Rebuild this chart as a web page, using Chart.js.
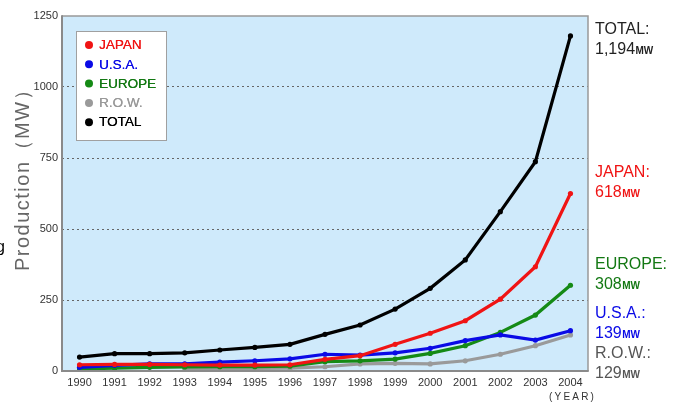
<!DOCTYPE html>
<html>
<head>
<meta charset="utf-8">
<script src="https://cdn.jsdelivr.net/npm/chart.js@4"></script>
<style>
  html, body { margin: 0; padding: 0; background: #fff; }
  #myChart { display: block; }
</style>
</head>
<body>
<canvas id="myChart" width="676" height="407"></canvas>
<script>
var years = ["1990", "1991", "1992", "1993", "1994", "1995", "1996", "1997",
  "1998", "1999", "2000", "2001", "2002", "2003", "2004"];

var japan = [22, 23, 23, 22, 21, 21, 22, 41, 54, 94, 133, 177, 253, 367, 625];
var usa = [13, 20, 25, 25, 31, 36, 43, 59, 56, 64, 80, 107, 127, 109, 142];
var europe = [7, 10, 13, 14, 15, 15, 17, 33, 36, 42, 62, 89, 136, 197, 302];
var row = [null, null, null, 8, 9, 9, 10, 15, 25, 27, 25, 36, 59, 89, 127];
var total = [49, 61, 61, 64, 74, 83, 94, 129, 162, 218, 291, 391, 561, 737, 1180];

var yTicks = [0, 250, 500, 750, 1000, 1250];

// text shown at the right of the plot
var endNames = ["TOTAL:", "JAPAN:", "EUROPE:", "U.S.A.:", "R.O.W.:"];
var endValues = ["1,194", "618", "308", "139", "129"];

var colors = {
  japan: "#f01414",
  usa: "#0a0ae6",
  europe: "#158a15",
  row: "#9a9a9a",
  total: "#000000",
};

var FONT = "'Liberation Sans', Arial, sans-serif";

const makeSet = (label, data, color, order, textColor) => {
  return {
    label: label,
    data: data,
    borderColor: color,
    backgroundColor: color,
    pointBackgroundColor: color,
    pointBorderWidth: 0,
    pointRadius: 2.6,
    borderWidth: 3.2,
    tension: 0,
    fill: false,
    order: order,
    textColor: textColor,
  };
};

const decor = {
  id: "decor",
  beforeDraw: function (chart) {
    var ctx = chart.ctx;
    var a = chart.chartArea;
    ctx.save();
    ctx.fillStyle = "#cfeafb";
    ctx.fillRect(a.left, a.top, a.right - a.left, a.bottom - a.top);
    ctx.restore();
  },
  afterDraw: function (chart) {
    var ctx = chart.ctx;
    var a = chart.chartArea;
    ctx.save();

    // frame
    ctx.strokeStyle = "#999";
    ctx.lineWidth = 1.5;
    ctx.beginPath();
    ctx.moveTo(a.left, a.top);
    ctx.lineTo(a.right, a.top);
    ctx.lineTo(a.right, a.bottom);
    ctx.stroke();
    ctx.strokeStyle = "#8a8a8a";
    ctx.lineWidth = 2;
    ctx.beginPath();
    ctx.moveTo(a.left, a.top - 0.75);
    ctx.lineTo(a.left, a.bottom);
    ctx.lineTo(a.right + 0.75, a.bottom);
    ctx.stroke();

    // legend box
    var order = [0, 1, 2, 3, 4];
    ctx.fillStyle = "#fff";
    ctx.fillRect(76, 31, 90, 109);
    ctx.strokeStyle = "#a0a0a0";
    ctx.lineWidth = 1;
    ctx.strokeRect(76.5, 31.5, 90, 109);
    ctx.font = "13.5px " + FONT;
    ctx.textBaseline = "middle";
    ctx.textAlign = "left";
    order.forEach(function (i, k) {
      var ds = chart.data.datasets[i];
      var y = 45 + k * 19.3;
      ctx.fillStyle = ds.borderColor;
      ctx.beginPath();
      ctx.arc(89, y, 4, 0, Math.PI * 2);
      ctx.fill();
      ctx.fillStyle = ds.textColor;
      ctx.fillText(ds.label, 99, y + 0.5);
      // slight second pass for the heavier look of the original
      ctx.fillText(ds.label, 99.3, y + 0.5);
    });

    // labels at the right
    var endColors = ["#222", colors.japan, "#137813", colors.usa, "#555"];
    var endY = [28, 171, 263, 312, 352];
    for (let i = 0; i < endNames.length; i++) {
      ctx.fillStyle = endColors[i];
      ctx.font = "16px " + FONT;
      ctx.textBaseline = "alphabetic";
      ctx.fillText(endNames[i], 595, endY[i] + 6);
      ctx.fillText(endValues[i], 595, endY[i] + 26);
      var w = ctx.measureText(endValues[i]).width;
      ctx.font = "bold 10px " + FONT;
      ctx.fillText("MW", 595 + w + 0.5, endY[i] + 26);
    }

    // y title
    ctx.fillStyle = "#666";
    ctx.font = "20px " + FONT;
    ctx.textAlign = "center";
    ctx.textBaseline = "middle";
    if ("letterSpacing" in ctx) ctx.letterSpacing = "1.5px";
    ctx.translate(23, 175);
    ctx.rotate(-Math.PI / 2);
    ctx.fillText("Production（MW）", 0, 0);
    ctx.setTransform(1, 0, 0, 1, 0, 0);

    // year unit
    ctx.fillStyle = "#333";
    ctx.font = "10px " + FONT;
    ctx.textAlign = "left";
    if ("letterSpacing" in ctx) ctx.letterSpacing = "2.2px";
    ctx.fillText("(YEAR)", 549, 397);
    if ("letterSpacing" in ctx) ctx.letterSpacing = "0px";

    // clipped letter at the left edge
    ctx.fillStyle = "#000";
    ctx.font = "16px " + FONT;
    ctx.fillText("g", -4, 248);

    ctx.restore();
  },
};

var ctx = document.getElementById("myChart").getContext("2d");

let chart = new Chart(ctx, {
  type: "line",
  data: {
    labels: years,
    datasets: [
      makeSet("JAPAN", japan, colors.japan, 1, colors.japan),
      makeSet("U.S.A.", usa, colors.usa, 2, colors.usa),
      makeSet("EUROPE", europe, colors.europe, 3, "#137813"),
      makeSet("R.O.W.", row, colors.row, 4, "#999"),
      makeSet("TOTAL", total, colors.total, 0, "#000"),
    ],
  },
  options: {
    responsive: false,
    animation: false,
    events: [],
    layout: { padding: { left: 0, right: 88, top: 16, bottom: 0 } },
    plugins: {
      legend: { display: false },
      tooltip: { enabled: false },
    },
    scales: {
      x: {
        offset: true,
        grid: { display: false, drawTicks: false },
        border: { display: false },
        ticks: {
          color: "#333",
          font: { family: FONT, size: 11 },
          padding: 5,
          maxRotation: 0,
          autoSkip: false,
        },
        afterFit: function (scale) {
          scale.height = 36;
        },
      },
      y: {
        min: 0,
        max: 1250,
        afterBuildTicks: function (scale) {
          scale.ticks = yTicks.map(function (v) {
            return { value: v };
          });
        },
        grid: {
          drawTicks: false,
          lineWidth: 1,
          color: function (c) {
            if (c.tick && (c.tick.value === 0 || c.tick.value === 1250)) {
              return "rgba(0,0,0,0)";
            }
            return "#666";
          },
        },
        border: { display: false, dash: [2, 3] },
        ticks: {
          color: "#333",
          font: { family: FONT, size: 11 },
          padding: 4,
          callback: function (v) {
            return String(v);
          },
        },
        afterFit: function (scale) {
          scale.width = 62;
        },
      },
    },
  },
  plugins: [decor],
});
</script>
</body>
</html>
